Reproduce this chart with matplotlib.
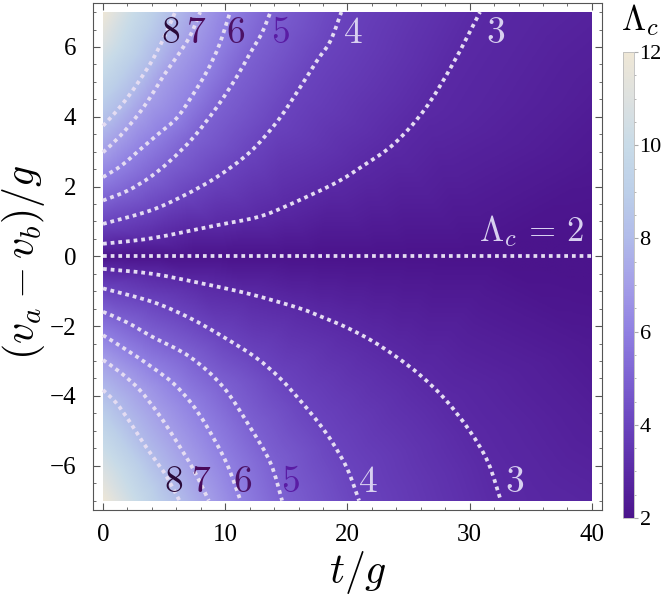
import numpy as np
import matplotlib
matplotlib.use("Agg")
import matplotlib.pyplot as plt
import matplotlib.tri as mtri
from matplotlib.colors import LinearSegmentedColormap
from matplotlib.patches import PathPatch
from matplotlib.path import Path
from matplotlib.ticker import MultipleLocator

plt.rcParams["mathtext.fontset"] = "cm"
plt.rcParams["font.family"] = ["Liberation Serif", "DejaVu Serif"]

levels = [3, 4, 5, 6, 7, 8]

# contour crossings: t/g and (v_a - v_b)/g, upper half
upper_t = {
    3: [0, 4.0, 9.3, 12.6, 14.8, 18.9, 21.3, 23.8, 26.3, 28.6, 30.85],
    4: [0, 3.85, 6.6, 9.3, 12.0, 14.2, 15.85, 17.5, 18.6, 19.5],
    5: [0, 2.0, 3.85, 5.5, 7.4, 9.3, 10.9, 12.0, 13.0, 13.7],
    6: [0, 1.5, 3.0, 4.5, 6.0, 7.2, 8.5, 9.5, 10.4],
    7: [0, 1.4, 2.8, 3.85, 5.0, 6.0, 7.1, 7.95],
    8: [0, 1.0, 2.0, 3.0, 4.0, 5.0, 5.9],
}
upper_d = {
    3: [0.36, 0.52, 0.89, 1.12, 1.41, 2.08, 2.6, 3.22, 4.2, 5.5, 7.0],
    4: [0.93, 1.31, 1.74, 2.27, 2.98, 3.84, 4.69, 5.6, 6.17, 7.0],
    5: [1.6, 1.88, 2.27, 2.74, 3.41, 4.27, 5.12, 5.8, 6.4, 7.0],
    6: [2.27, 2.6, 3.05, 3.5, 3.95, 4.55, 5.3, 6.05, 7.0],
    7: [2.98, 3.45, 4.03, 4.55, 5.2, 5.7, 6.3, 7.0],
    8: [3.74, 4.12, 4.55, 5.05, 5.6, 6.28, 7.0],
}
# lower half
lower_t = {
    3: [0, 4.0, 8.0, 12.0, 16.0, 18.0, 20.0, 22.0, 24.0, 26.0, 28.0, 30.0, 31.5, 32.55],
    4: [0, 4.0, 7.0, 9.8, 12.5, 14.5, 16.3, 17.7, 18.8, 20.0, 20.95],
    5: [0, 2.0, 4.0, 7.1, 9.8, 12.0, 13.7, 14.65],
    6: [0, 2.0, 3.9, 5.75, 7.2, 8.5, 10.1, 11.25],
    7: [0, 1.5, 3.0, 4.5, 5.75, 7.4, 8.65],
    8: [0, 1.1, 2.2, 3.3, 4.3, 5.2, 6.25],
}
lower_d = {
    3: [-0.36, -0.5, -0.77, -1.08, -1.48, -1.75, -2.05, -2.42, -2.88, -3.42, -4.1, -5.0, -5.9, -7.0],
    4: [-0.92, -1.3, -1.75, -2.3, -2.9, -3.5, -4.2, -4.8, -5.35, -6.1, -7.0],
    5: [-1.59, -1.9, -2.3, -2.88, -3.73, -4.88, -5.92, -7.0],
    6: [-2.26, -2.7, -3.15, -3.64, -4.2, -4.88, -5.92, -7.0],
    7: [-2.97, -3.35, -3.83, -4.5, -5.16, -6.11, -7.0],
    8: [-3.83, -4.21, -4.75, -5.35, -5.85, -6.31, -7.0],
}

# extra samples of the shading (edges, light corners, Lambda_c = 2 axis)
edge_t = [0, 0, 0, 0, 1.1, 2.5, 4.1,
          0, 0, 0, 0, 1.2, 2.7, 4.3,
          35, 40, 40, 40, 40,
          36, 40, 40, 40, 40]
edge_d = [4.55, 5.4, 6.25, 7.0, 7.0, 7.0, 7.0,
          -4.6, -5.45, -6.3, -7.0, -7.0, -7.0, -7.0,
          7.0, 7.0, 4.5, 2.5, 1.0,
          -7.0, -7.0, -4.5, -2.5, -1.0]
edge_v = [9, 10, 11, 11.9, 11, 10, 9,
          9, 10, 11, 11.9, 11, 10, 9,
          2.85, 2.7, 2.45, 2.2, 2.05,
          2.9, 2.8, 2.5, 2.25, 2.06]
axis_t = [0, 2.5, 5, 7.5, 10, 12.5, 15, 17.5, 20, 22.5, 25, 27.5, 30, 32.5, 35, 37.5, 40]

cmap_colors = ["#4b148c", "#5a2aa6", "#6a44be", "#7d62d2", "#9080e2", "#a49ee8",
               "#b1bbea", "#bccfe9", "#c8dbe8", "#dde1e0", "#efe7d6"]

# contour label positions (same order as levels)
upper_labels_t = [32.1, 20.4, 14.55, 10.85, 7.6, 5.5]
lower_labels_t = [33.7, 21.7, 15.3, 11.4, 8.05, 5.75]
label_colors = ["#d8d0f0", "#d8d0f0", "#5a1ca4", "#4c1266", "#4a0a5a", "#2a0a3a"]


def smooth_path(t, d):
    # Catmull-Rom through the read points, drawn as cubic Bezier segments
    p = np.column_stack([t, d]).astype(float)
    verts, codes = [p[0]], [Path.MOVETO]
    for i in range(len(p) - 1):
        p0 = p[i - 1] if i > 0 else p[i]
        p3 = p[i + 2] if i + 2 < len(p) else p[i + 1]
        verts += [p[i] + (p[i + 1] - p0) / 6, p[i + 1] - (p3 - p[i]) / 6, p[i + 1]]
        codes += [Path.CURVE4] * 3
    return Path(verts, codes)


# ---- field from the read samples
pt, pd, pv = [], [], []
for lv in levels:
    for tt, dd in ((upper_t[lv], upper_d[lv]), (lower_t[lv], lower_d[lv])):
        pt += tt
        pd += dd
        pv += [lv] * len(tt)
pt += edge_t + axis_t
pd += edge_d + [0.0] * len(axis_t)
pv += edge_v + [2.0] * len(axis_t)
pt, pd, pv = np.array(pt, float), np.array(pd, float), np.array(pv, float)

tri_s = mtri.Triangulation(pt / 40.0, pd / 14.0)
tri = mtri.Triangulation(pt, pd, tri_s.triangles)
interp = mtri.LinearTriInterpolator(tri, pv)
gt, gd = np.meshgrid(np.linspace(0, 40, 500), np.linspace(-7, 7, 400))
field = np.ma.filled(interp(gt, gd), np.nan)

cmap = LinearSegmentedColormap.from_list("lam", cmap_colors)

fig = plt.figure(figsize=(6.64, 5.96), dpi=100)
ax = fig.add_axes([93 / 664, 1 - 510 / 596, 509 / 664, 507 / 596])
im = ax.imshow(field, origin="lower", extent=[0, 40, -7, 7], aspect="auto",
               cmap=cmap, vmin=2, vmax=12, interpolation="bilinear")

dot = dict(edgecolor="#e4dcf2", facecolor="none", lw=2.7, ls=(0, (1, 1.05)), capstyle="butt")
for lv in levels:
    ax.add_patch(PathPatch(smooth_path(upper_t[lv], upper_d[lv]), **dot))
    ax.add_patch(PathPatch(smooth_path(lower_t[lv], lower_d[lv]), **dot))
ax.add_patch(PathPatch(Path([(0, 0), (40, 0)]), **dot))

for lv, xt, xb, c in zip(levels, upper_labels_t, lower_labels_t, label_colors):
    ax.text(xt, 6.38, f"${lv}$", fontsize=27, color=c, ha="center", va="center")
    ax.text(xb, -6.5, f"${lv}$", fontsize=27, color=c, ha="center", va="center")
ax.text(39.4, 0.72, r"$\Lambda_c\,=\,2$", fontsize=25, color="#d8d0f0", ha="right", va="center")

ax.set_xlim(-0.82, 40.83)
ax.set_ylim(-7.27, 7.26)
ax.xaxis.set_major_locator(MultipleLocator(10))
ax.xaxis.set_minor_locator(MultipleLocator(2))
ax.yaxis.set_minor_locator(MultipleLocator(0.5))
ax.tick_params(which="both", direction="in", top=True, right=True, color="#555555",
               labelsize=18)
ax.tick_params(axis="y", pad=12)
ax.tick_params(axis="x", pad=10)
ax.tick_params(which="major", length=5)
ax.tick_params(which="minor", length=2.5)
ax.set_yticks(range(-6, 7, 2))
ax.set_yticklabels(["\u22126", "\u22124", "\u22122", "0", "2", "4", "6"])
for s in ax.spines.values():
    s.set_color("#555555")

fig.text(358 / 664, 1 - 572 / 596, "$t/g$", fontsize=30, ha="center", va="center")
fig.text(24 / 664, 1 - 262 / 596, "$(v_a - v_b)/g$", fontsize=30, ha="center", va="center",
         rotation=90)

cax = fig.add_axes([623 / 664, 1 - 518 / 596, 11 / 664, 466 / 596])
cb = fig.colorbar(im, cax=cax, ticks=[2, 4, 6, 8, 10, 12])
cb.outline.set_edgecolor("#bbbbbb")
cb.outline.set_linewidth(0.6)
cax.yaxis.set_minor_locator(MultipleLocator(0.5))
cax.tick_params(which="both", direction="out", color="#aaaaaa", labelsize=16, pad=1)
cax.tick_params(which="major", length=3)
cax.tick_params(which="minor", length=1.5)
fig.text(640 / 664, 1 - 20 / 596, r"$\Lambda_c$", fontsize=25, ha="center", va="center")

fig.savefig("out.png", dpi=100)
